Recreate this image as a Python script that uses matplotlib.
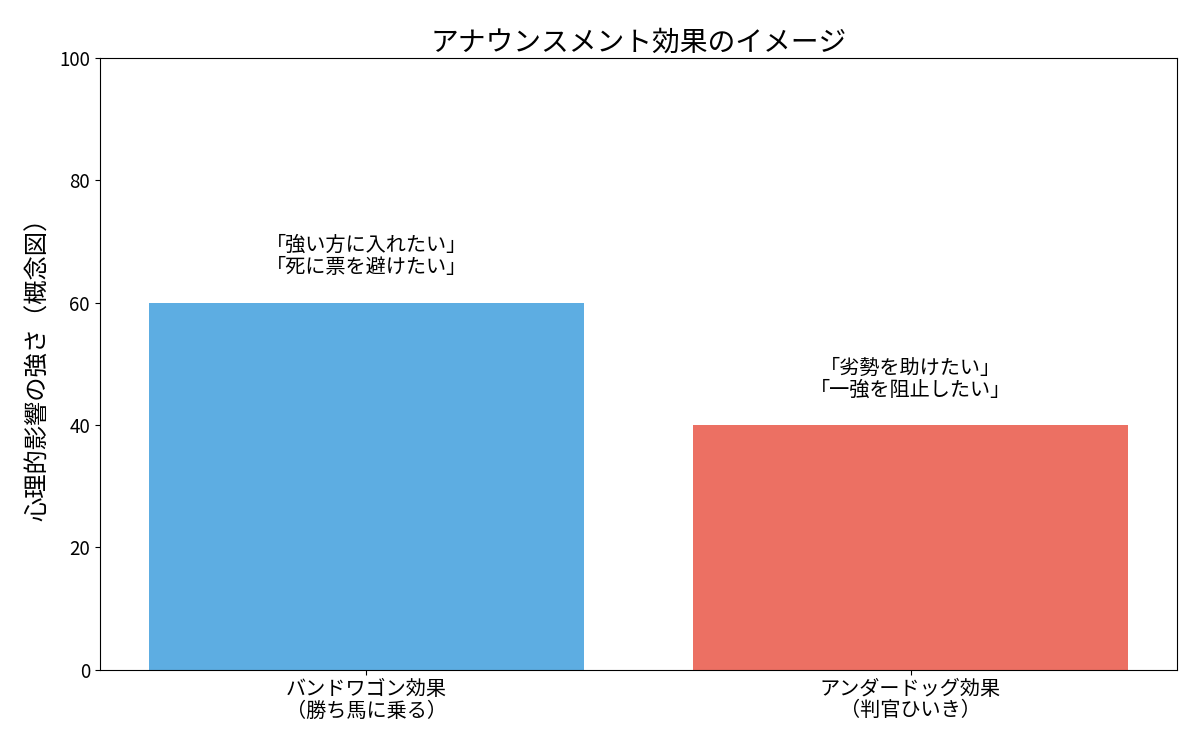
import matplotlib
matplotlib.use("Agg")
import matplotlib.pyplot as plt

plt.rcParams['font.family'] = ['Noto Sans CJK JP', 'DejaVu Sans']

# data
labels = ["バンドワゴン効果\n（勝ち馬に乗る）", "アンダードッグ効果\n（判官ひいき）"]
values = [60, 40]
notes = ["「強い方に入れたい」\n「死に票を避けたい」", "「劣勢を助けたい」\n「一強を阻止したい」"]
colors = ["#5DADE2", "#EC7063"]

fig, ax = plt.subplots(figsize=(12, 7.5), dpi=100)
bars = ax.bar(labels, values, color=colors, width=0.8)

for b, note in zip(bars, notes):
    ax.text(b.get_x() + b.get_width() / 2, b.get_height() + 4, note,
            ha="center", va="bottom", fontsize=14.5, linespacing=1.05)

ax.set_ylim(0, 100)
ax.set_ylabel("心理的影響の強さ（概念図）", fontsize=17.5, labelpad=6)
ax.set_title("アナウンスメント効果のイメージ", fontsize=20, pad=4)
ax.tick_params(axis="x", labelsize=14.5)
ax.tick_params(axis="y", labelsize=13.5)
for t in ax.get_xticklabels():
    t.set_linespacing(1.0)

fig.subplots_adjust(left=0.083, right=0.981, top=0.923, bottom=0.107)
fig.savefig("out.png")
